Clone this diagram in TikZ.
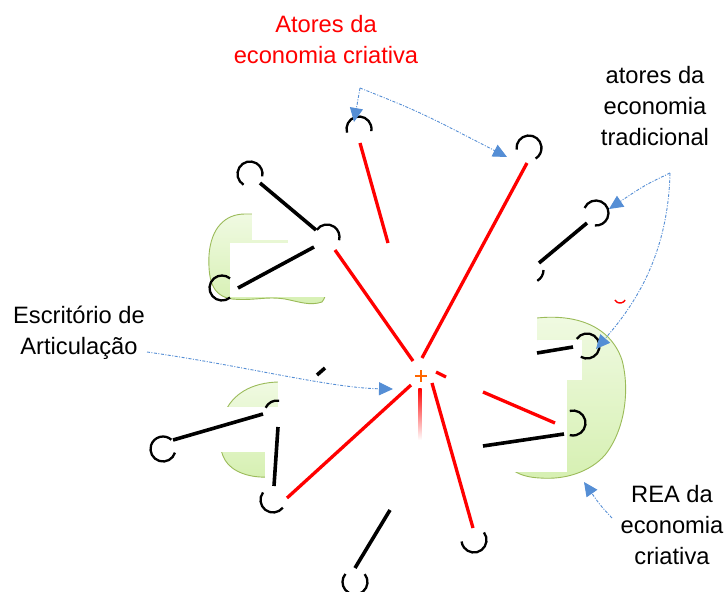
\documentclass[tikz,border=0pt]{standalone}
\usepackage{fontspec}
\setmainfont{Liberation Sans}
\usetikzlibrary{arrows.meta}
\definecolor{lred}{RGB}{255,0,0}
\definecolor{blu}{RGB}{85,142,213}
\definecolor{gedge}{RGB}{155,187,89}
\definecolor{gtop}{RGB}{240,250,226}
\definecolor{gbot}{RGB}{214,240,178}
\definecolor{orng}{RGB}{255,102,0}
\newcommand\carc[3]{\draw[circ] ([shift={(#2:12.5)}]#1) arc[start angle=#2,end angle=#3,radius=12.5];}
\begin{document}
\begin{tikzpicture}[x=1pt,y=-1pt,
  redl/.style={draw=lred,line width=3.3pt},
  blkl/.style={draw=black,line width=3.6pt},
  circ/.style={draw=black,line width=2.3pt},
  blob/.style={draw=gedge,line width=0.9pt,top color=gtop,bottom color=gbot},
  wbox/.style={fill=white,draw=none},
  lbl/.style={font=\fontsize{23.7}{31}\selectfont,anchor=base,inner sep=0pt},
  blua/.style={draw=blu,line width=0.9pt,dash pattern=on 3pt off 1.5pt on 1pt off 1.5pt,-{Triangle[length=14pt,width=13pt]}}]
\useasboundingbox[fill=white] (0,0) rectangle (726,592);
% green blobs
\path[blob] (245,214) .. controls (225,214) and (211,228) .. (209,255) .. controls (208,280) and (212,296) .. (232,299) .. controls (255,301) and (265,296) .. (285,299) .. controls (300,302) and (310,306) .. (322,302) .. controls (332,290) and (332,240) .. (325,222) .. controls (310,214) and (280,214) .. cycle;
\path[blob] (285,382) .. controls (255,381) and (235,392) .. (226,410) .. controls (218,428) and (218,448) .. (225,460) .. controls (232,472) and (250,478) .. (268,477) .. controls (290,475) and (300,460) .. (300,430) .. controls (300,400) and (297,383) .. cycle;
\path[blob] (537,318) .. controls (575,314) and (610,325) .. (622,360) .. controls (630,390) and (625,430) .. (605,455) .. controls (590,472) and (565,480) .. (540,478) .. controls (520,477) and (505,470) .. (500,450) .. controls (495,420) and (495,380) .. (505,345) .. controls (512,325) and (525,318) .. cycle;
% white patches
\path[wbox] (252,205) rectangle (340,240);
\path[wbox] (288,239) rectangle (340,244);
\path[wbox] (230,243) rectangle (340,297);
\path[wbox] (278,375) rectangle (310,485);
\path[wbox] (212,407) rectangle (279,452);
\path[wbox] (265,452) rectangle (279,485);
\path[wbox] (490,305) rectangle (537,372);
\path[wbox] (537,340) rectangle (582,370);
\path[wbox] (567,368) rectangle (582,380);
\path[wbox] (480,370) rectangle (567,472);
% circle nodes (centres)
\coordinate (c1) at (359,129);
\coordinate (c2) at (529,148);
\coordinate (c3) at (250,174);
\coordinate (c4) at (327,237);
\coordinate (c5) at (222,288);
\coordinate (c6) at (596,213);
\coordinate (c7) at (531,270);
\coordinate (c8) at (587,346);
\coordinate (c9) at (573,423);
\coordinate (c10) at (474,540);
\coordinate (c11) at (355,582);
\coordinate (c12) at (273,500);
\coordinate (c13) at (163,449);
\coordinate (c14) at (277,413);
\carc{c1}{163}{370}
\carc{c2}{173}{418}
\carc{c3}{121}{371}
\carc{c4}{215}{375}
\carc{c5}{50}{310}
\carc{c6}{204}{455}
\carc{c7}{0}{60}
\carc{c8}{215}{480}
\carc{c9}{255}{465}
\carc{c10}{-37}{173}
\carc{c11}{-39}{220}
\carc{c12}{38}{217}
\carc{c13}{17}{312}
\carc{c14}{205}{280}
% red segments
\coordinate (r1a) at (360,143); \coordinate (r1b) at (388,243);
\coordinate (r2a) at (422,358); \coordinate (r2b) at (527,163);
\coordinate (r3a) at (335,250); \coordinate (r3b) at (413,361);
\coordinate (r4a) at (411,385); \coordinate (r4b) at (287,498);
\coordinate (r5a) at (432,383); \coordinate (r5b) at (473,528);
\coordinate (r7a) at (436,372); \coordinate (r7b) at (446,377);
\coordinate (r7c) at (483,392); \coordinate (r7d) at (555,423);
\draw[redl] (r1a) -- (r1b);
\draw[redl] (r2a) -- (r2b);
\draw[redl] (r3a) -- (r3b);
\draw[redl] (r4a) -- (r4b);
\draw[redl] (r5a) -- (r5b);
\draw[redl] (r7a) -- (r7b);
\draw[redl] (r7c) -- (r7d);
\shade[top color=lred,bottom color=white] (418.4,388) rectangle (421.6,440);
\draw[lred,line width=1.4pt] ([shift={(30:6)}]620,297) arc[start angle=30,end angle=150,radius=6];
% black segments
\coordinate (b1a) at (260,183); \coordinate (b1b) at (316,230);
\coordinate (b2a) at (314,247); \coordinate (b2b) at (238,288);
\coordinate (b3a) at (587,223); \coordinate (b3b) at (539,263);
\coordinate (b4a) at (573,347); \coordinate (b4b) at (537,353);
\coordinate (b5a) at (483,446); \coordinate (b5b) at (564,434);
\coordinate (b6a) at (355,568); \coordinate (b6b) at (390,510);
\coordinate (b7a) at (173,440); \coordinate (b7b) at (263,414);
\coordinate (b8a) at (274,486); \coordinate (b8b) at (278,427);
\coordinate (b9a) at (317,375); \coordinate (b9b) at (325,368);
\foreach \p in {1,...,9}{\draw[blkl] (b\p a) -- (b\p b);}
% centre mark
\coordinate (ctr) at (421,376);
\draw[orng,line width=2.6pt] ([xshift=-6pt]ctr) -- ([xshift=6pt]ctr) ([yshift=6pt]ctr) -- ([yshift=-6pt]ctr);
% labels
\node[lbl,text=lred] (ta1) at (326,32) {Atores da};
\node[lbl,text=lred] (ta2) at (326,63) {economia criativa};
\node[lbl] (tb1) at (655,83) {atores da};
\node[lbl] (tb2) at (655,114) {economia};
\node[lbl] (tb3) at (655,145) {tradicional};
\node[lbl] (tc1) at (79,323) {Escritório de};
\node[lbl] (tc2) at (79,354) {Articulação};
\node[lbl] (td1) at (672,502) {REA da};
\node[lbl] (td2) at (672,533) {economia};
\node[lbl] (td3) at (672,564) {criativa};
% blue dotted arrows
\coordinate (k1) at (360,88);
\coordinate (k1a) at (354,122);
\coordinate (k1b) at (507,157);
\draw[blua] (k1) -- (k1a);
\draw[blua] (k1) .. controls (420,112) .. (k1b);
\coordinate (k2) at (670,173);
\coordinate (k2a) at (609,209);
\coordinate (k2b) at (596,349);
\draw[blua] (k2) .. controls (645,185) .. (k2a);
\draw[blua] (k2) .. controls (668,260) and (630,310) .. (k2b);
\coordinate (k3) at (147,352);
\coordinate (k3a) at (393,389);
\draw[blua] (k3) .. controls (240,365) and (330,388) .. (k3a);
\coordinate (k4) at (612,518);
\coordinate (k4a) at (584,482);
\draw[blua] (k4) .. controls (600,505) .. (k4a);
\end{tikzpicture}
\end{document}
